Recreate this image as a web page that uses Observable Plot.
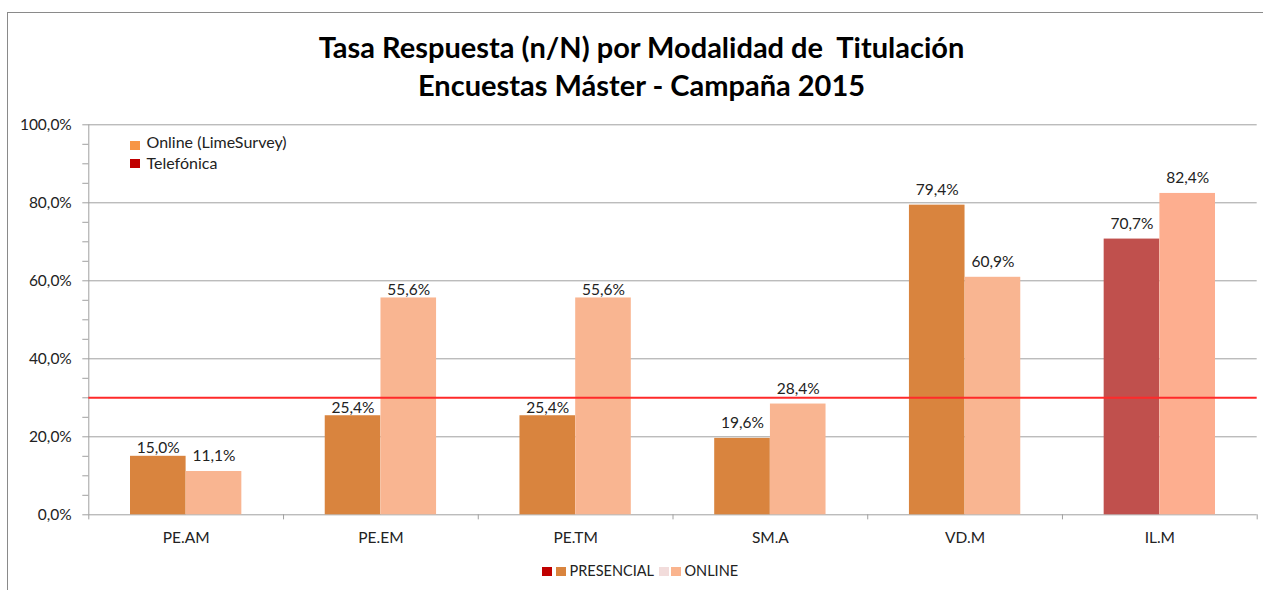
<!DOCTYPE html>
<html>
<head>
<meta charset="utf-8">
<script src="https://cdn.jsdelivr.net/npm/d3@7"></script>
<script src="https://cdn.jsdelivr.net/npm/@observablehq/plot@0.6"></script>
<style>
  html, body { margin: 0; padding: 0; background: #fff; overflow: hidden; }
  #wrap { position: relative; width: 1263px; height: 590px; overflow: hidden; font-family: Lato, "Open Sans", sans-serif; color: #222; }
  #frame { position: absolute; left: 7px; top: 12px; width: 1400px; height: 800px; border-top: 1.5px solid #8a8a8a; border-left: 1.5px solid #8a8a8a; }
  #chart { position: absolute; left: 0; top: 0; }
  .title { position: absolute; left: 0; width: 1283px; text-align: center; font-weight: 700; font-size: 29px; white-space: pre; color: #000; line-height: 1; }
  .leg { position: absolute; font-size: 16px; line-height: 1; white-space: pre; color: #222; }
  .sw { position: absolute; width: 10px; height: 9px; }
</style>
</head>
<body>
<div id="wrap">
  <div id="frame"></div>
  <div id="chart"></div>
  <div class="title" style="top:32px">Tasa Respuesta (n/N) por Modalidad de  Titulación</div>
  <div class="title" style="top:70px">Encuestas Máster - Campaña 2015</div>
  <div id="legends"></div>
</div>
<script>
// ---- data ----
const categories = ["PE.AM", "PE.EM", "PE.TM", "SM.A", "VD.M", "IL.M"];
const series = ["PRESENCIAL", "ONLINE"];
const presencial = [0.150, 0.254, 0.254, 0.196, 0.794, 0.707];
const online = [0.111, 0.556, 0.556, 0.284, 0.609, 0.824];
const yTicks = [0, 0.2, 0.4, 0.6, 0.8, 1.0];
const yMinorTicks = [0.05, 0.10, 0.15, 0.25, 0.30, 0.35, 0.45, 0.50, 0.55, 0.65, 0.70, 0.75, 0.85, 0.90, 0.95];
const target = 0.30;
const topLegend = ["Online (LimeSurvey)", "Telefónica"];

// ---- build rows ----
const rows = categories.flatMap((c, i) => [
  {cat: c, series: series[0], value: presencial[i]},
  {cat: c, series: series[1], value: online[i]}
]);

const fmt = v => (v * 100).toFixed(1).replace(".", ",") + "%";

const W = 1263, H = 590;
const mL = 88.3, mR = 6.3, mT = 124.3, mB = 75.7;
const band = (W - mL - mR) / categories.length;
const half = band / 2;
const barW = 55.6;
const outer = 41.7;
const barOff = half - outer - barW / 2; // center offset of each bar from band center

// labels nudged closer to their bar (as in the original)
const nudged = new Set(["PE.AM|PRESENCIAL", "PE.EM|PRESENCIAL", "PE.TM|PRESENCIAL", "PE.EM|ONLINE", "PE.TM|ONLINE"]);

const presFill = d => d.cat === "IL.M" ? "#C0504D" : "#D9843E";
const onFill = d => d.cat === "IL.M" ? "#FDAE8F" : "#F9B591";

function labels(s, isNudged) {
  return Plot.text(rows.filter(d => d.series === s && nudged.has(d.cat + "|" + d.series) === isNudged), {
    x: "cat", y: "value", text: d => fmt(d.value),
    dx: s === "PRESENCIAL" ? -barOff : barOff,
    lineAnchor: "bottom", dy: isNudged ? -3 : -10.5,
    fontSize: 15.5, fill: "#222"
  });
}

const chart = Plot.plot({
  width: W, height: H,
  marginLeft: mL, marginRight: mR, marginTop: mT, marginBottom: mB,
  style: {fontFamily: "Lato, 'Open Sans', sans-serif", fontSize: "15px", color: "#222", background: "transparent", overflow: "visible"},
  x: {domain: categories, padding: 0, round: false, axis: null},
  y: {domain: [0, 1], axis: null},
  marks: [
    Plot.ruleY(yTicks, {stroke: "#a0a0a0", strokeWidth: 1}),
    Plot.ruleX([categories[0]], {x: d => d, dx: -half, stroke: "#a0a0a0"}),
    Plot.axisY({ticks: yMinorTicks, tickSize: 6, tickFormat: () => "", label: null, stroke: "#a0a0a0", strokeOpacity: 1}),
    Plot.axisY({ticks: yTicks, tickSize: 6, tickPadding: 11, tickFormat: fmt, label: null, fontSize: 15.5, stroke: "#a0a0a0", strokeOpacity: 1, fill: "#222"}),
    Plot.ruleX(categories, {x: d => d, dx: -half, y1: 0, y2: -0.013, stroke: "#a0a0a0"}),
    Plot.ruleX([categories[categories.length - 1]], {x: d => d, dx: half, y1: 0, y2: -0.013, stroke: "#a0a0a0"}),
    Plot.axisX({tickSize: 0, tickPadding: 17.5, label: null, fontSize: 15.5, fill: "#222"}),
    Plot.barY(rows.filter(d => d.series === "PRESENCIAL"), {x: "cat", y: "value", fill: presFill, insetLeft: outer, insetRight: band - outer - barW}),
    Plot.barY(rows.filter(d => d.series === "ONLINE"), {x: "cat", y: "value", fill: onFill, insetLeft: band - outer - barW, insetRight: outer}),
    Plot.ruleY([target], {stroke: "#FF2A2A", strokeWidth: 2}),
    labels("PRESENCIAL", false), labels("PRESENCIAL", true),
    labels("ONLINE", false), labels("ONLINE", true)
  ]
});
document.getElementById("chart").appendChild(chart);

// ---- legends (HTML) ----
const leg = document.getElementById("legends");
function sw(x, y, color) {
  const e = document.createElement("div");
  e.className = "sw"; e.style.left = x + "px"; e.style.top = y + "px"; e.style.background = color;
  leg.appendChild(e);
}
function txt(x, y, t, size) {
  const e = document.createElement("div");
  e.className = "leg"; e.style.left = x + "px"; e.style.top = y + "px"; e.textContent = t;
  if (size) e.style.fontSize = size + "px";
  leg.appendChild(e);
}
sw(129.5, 141, "#F79646"); txt(146.5, 134.2, topLegend[0]);
sw(129.5, 159, "#C00000"); txt(146.5, 154.8, topLegend[1]);
sw(542, 567, "#C00000"); sw(556, 567, "#D9843E"); txt(569.5, 563.5, series[0], 14.5);
sw(659, 567, "#F2DCDB"); sw(671, 567, "#FAB48E"); txt(684.5, 563.5, series[1], 14.5);
</script>
</body>
</html>
